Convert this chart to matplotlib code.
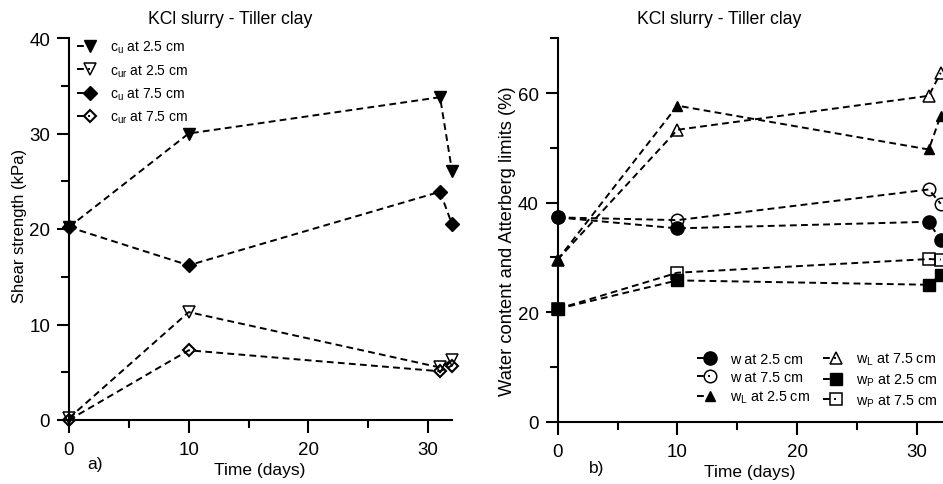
import matplotlib
matplotlib.use('Agg')

import matplotlib.pyplot as plt
from matplotlib.lines import Line2D
from matplotlib.legend_handler import HandlerLine2DCompound
from matplotlib.ticker import MultipleLocator

plt.rcParams['font.family'] = ['Liberation Sans', 'DejaVu Sans']
plt.rcParams['mathtext.fontset'] = 'custom'
plt.rcParams['mathtext.rm'] = 'Liberation Sans'
plt.rcParams['mathtext.it'] = 'Liberation Sans:italic'

# data
days = [0, 10, 31, 32]

# a) shear strength (kPa)
cu_25 = [20.2, 30.0, 33.8, 26.1]
cur_25 = [0.2, 11.3, 5.5, 6.3]
cu_75 = [20.2, 16.2, 23.9, 20.5]
cur_75 = [0.0, 7.3, 5.1, 5.7]

# b) water content and Atterberg limits (%)
w_25 = [37.3, 35.3, 36.5, 33.1]
w_75 = [37.3, 36.8, 42.4, 39.8]
wL_25 = [29.6, 57.7, 49.7, 55.9]
wL_75 = [29.6, 53.3, 59.5, 63.7]
wP_25 = [20.6, 25.8, 25.0, 26.8]
wP_75 = [20.6, 27.2, 29.7, 29.6]

W, H = 943, 485


class EndMarker(HandlerLine2DCompound):
    # short dash with the marker sitting on its right end: "-v"
    def get_xdata(self, legend, xdescent, ydescent, width, height, fontsize):
        xdata = [-xdescent, -xdescent + width]
        return xdata, [-xdescent + width]


def style_axes(ax, ymajor, yminor):
    for s in ['top', 'right']:
        ax.spines[s].set_visible(False)
    for s in ['left', 'bottom']:
        ax.spines[s].set_linewidth(1.5)
    ax.xaxis.set_major_locator(MultipleLocator(10))
    ax.xaxis.set_minor_locator(MultipleLocator(5))
    ax.yaxis.set_major_locator(MultipleLocator(ymajor))
    ax.yaxis.set_minor_locator(MultipleLocator(yminor))
    ax.tick_params(which='major', direction='out', length=9, width=1.5,
                   labelsize=13.5, pad=4.5)
    ax.tick_params(which='minor', direction='out', length=5.5, width=1.5)
    ax.tick_params(axis='x', which='major', pad=6)


line_kw = dict(color='black', ls='--', lw=1.4, dashes=(3.5, 2.2), clip_on=False)

fig = plt.figure(figsize=(W / 100, H / 100), dpi=100)

# ---- a) ----
ax1 = fig.add_axes([69 / W, 1 - 421 / H, (452 - 69) / W, (421 - 39) / H])
ax1.plot(days, cu_25, marker='v', ms=9, mfc='black', mec='black',
         label=r'c$_\mathrm{u}$ at 2.5 cm', **line_kw)
ax1.plot(days, cur_25, marker='v', ms=9, mfc='none', mec='black', mew=1.1,
         label=r'c$_\mathrm{ur}$ at 2.5 cm', **line_kw)
ax1.plot(days, cu_75, marker='D', ms=7, mfc='black', mec='black',
         label=r'c$_\mathrm{u}$ at 7.5 cm', **line_kw)
ax1.plot(days, cur_75, marker='D', ms=6, mfc='none', mec='black', mew=1.5,
         label=r'c$_\mathrm{ur}$ at 7.5 cm', **line_kw)
ax1.set_xlim(0, 32)
ax1.set_ylim(0, 40)
style_axes(ax1, 10, 5)
fig.text(19.5 / W, 1 - 226 / H, 'Shear strength (kPa)', rotation=90,
         ha='center', va='center', fontsize=12)
ax1.legend(handler_map={Line2D: EndMarker()}, numpoints=1, frameon=False,
           loc='upper left', bbox_to_anchor=(77 / W, 1 - 40 / H),
           bbox_transform=fig.transFigure, fontsize=10, borderpad=0,
           borderaxespad=0, handlelength=0.95, handletextpad=1.45,
           labelspacing=0.5)

# ---- b) ----
ax2 = fig.add_axes([557.7 / W, 1 - 422.7 / H, 32.5 * 11.97 / W, 383.4 / H])
ax2.plot(days, w_25, marker='o', ms=9.5, mfc='black', mec='black',
         label='w at 2.5 cm', **line_kw)
ax2.plot(days, w_75, marker='o', ms=9, mfc='none', mec='black', mew=1.1,
         label='w at 7.5 cm', **line_kw)
ax2.plot(days, wL_25, marker='^', ms=7, mfc='black', mec='black',
         label=r'w$_\mathrm{L}$ at 2.5 cm', **line_kw)
ax2.plot(days, wL_75, marker='^', ms=9, mfc='none', mec='black', mew=1.1,
         label=r'w$_\mathrm{L}$ at 7.5 cm', **line_kw)
ax2.plot(days, wP_25, marker='s', ms=9, mfc='black', mec='black',
         label=r'w$_\mathrm{P}$ at 2.5 cm', **line_kw)
ax2.plot(days, wP_75, marker='s', ms=9, mfc='none', mec='black', mew=1.1,
         label=r'w$_\mathrm{P}$ at 7.5 cm', **line_kw)
ax2.set_xlim(0, 32.5)
ax2.set_ylim(0, 70)
style_axes(ax2, 20, 10)
fig.text(508 / W, 1 - 241 / H, 'Water content and Atterberg limits (%)',
         rotation=90, ha='center', va='center', fontsize=13.2)
ax2.legend(handler_map={Line2D: EndMarker()}, numpoints=1, frameon=False,
           ncol=2, loc='upper left', bbox_to_anchor=(697 / W, 1 - 352 / H),
           bbox_transform=fig.transFigure, fontsize=10.3, borderpad=0,
           borderaxespad=0, handlelength=0.9, handletextpad=1.4,
           labelspacing=0.3, columnspacing=0.9)

# titles and axis labels placed like the reference
fig.text(230 / W, 1 - 20 / H, 'KCl slurry - Tiller clay', ha='center',
         va='center', fontsize=12.7)
fig.text(719 / W, 1 - 20 / H, 'KCl slurry - Tiller clay', ha='center',
         va='center', fontsize=12.7)
fig.text(260 / W, 1 - 471 / H, 'Time (days)', ha='center', va='center',
         fontsize=12.5)
fig.text(750 / W, 1 - 473 / H, 'Time (days)', ha='center', va='center',
         fontsize=12.5)
fig.text(95 / W, 1 - 465 / H, 'a)', ha='center', va='center', fontsize=12.5)
fig.text(597 / W, 1 - 469 / H, 'b)', ha='center', va='center', fontsize=12.5)

fig.savefig('out.png', dpi=100)
